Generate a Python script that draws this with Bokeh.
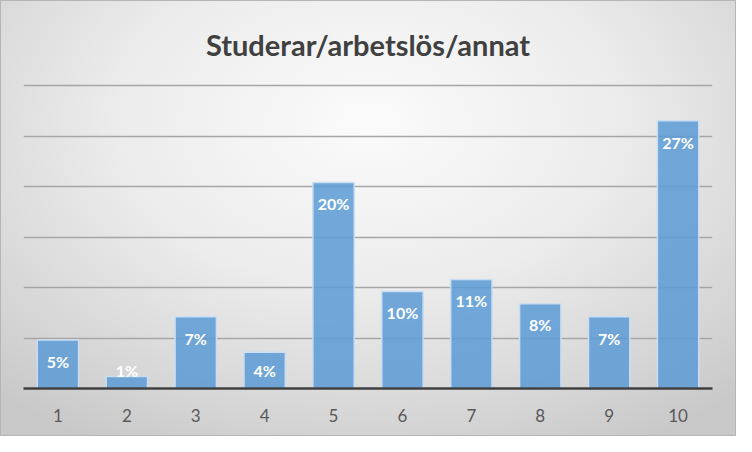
from bokeh.plotting import figure
from bokeh.models import ColumnDataSource, FixedTicker, InlineStyleSheet, Range1d, FactorRange
from bokeh.core.properties import value
from bokeh.embed import file_html
from bokeh.resources import INLINE

categories = ["1", "2", "3", "4", "5", "6", "7", "8", "9", "10"]
values = [4.8, 1.2, 7.1, 3.6, 20.4, 9.6, 10.8, 8.4, 7.1, 26.5]
labels = ["5%", "1%", "7%", "4%", "20%", "10%", "11%", "8%", "7%", "27%"]
grid_ticks = [0, 5, 10, 15, 20, 25, 30]

label_y = [max(v - 2.1, 1.82) for v in values]
src = ColumnDataSource(dict(x=categories, top=values, label=labels, ly=label_y))

p = figure(width=736, height=436, x_range=FactorRange(*categories), y_range=Range1d(0, 30.2),
           output_backend="svg", toolbar_location=None,
           min_border_left=23, min_border_right=24, min_border_top=83, min_border_bottom=48,
           title="Studerar/arbetslös/annat")

p.stylesheets = [InlineStyleSheet(css=":host { background: radial-gradient(ellipse 75% 85% at 50% 28%, #fbfbfb 0%, #ececec 45%, #d6d6d6 80%, #c8c8c8 100%); box-shadow: inset 0 0 0 1px #b5b5b5; }")]
p.background_fill_alpha = 0
p.border_fill_alpha = 0
p.outline_line_color = None

p.title.align = "center"
p.title.vertical_align = "top"
p.title.text_font = "Lato"
p.title.text_font_style = "bold"
p.title.text_font_size = "29px"
p.title.text_color = "#404040"
p.title.standoff = 40

p.vbar(x="x", top="top", width=0.6, source=src, fill_color="#5b9bd5", fill_alpha=0.85,
       line_color="#c9def2", line_width=1.5)

p.text(x="x", y="ly", text="label", source=src, text_align="center", text_baseline="middle",
       text_color="white", text_font=value("Lato"), text_font_style="bold", text_font_size="16px")

p.yaxis.visible = False
p.xgrid.grid_line_color = None
p.ygrid.ticker = FixedTicker(ticks=grid_ticks)
p.ygrid.grid_line_color = "#a6a6a6"
p.ygrid.grid_line_width = 1.5

p.xaxis.axis_line_color = "#404040"
p.xaxis.axis_line_width = 2.5
p.xaxis.major_tick_line_color = None
p.xaxis.minor_tick_line_color = None
p.xaxis.major_label_standoff = 14
p.xaxis.major_label_text_font = "Lato"
p.xaxis.major_label_text_font_size = "17px"
p.xaxis.major_label_text_color = "#595959"

open("out.html", "w").write(file_html(p, INLINE))
